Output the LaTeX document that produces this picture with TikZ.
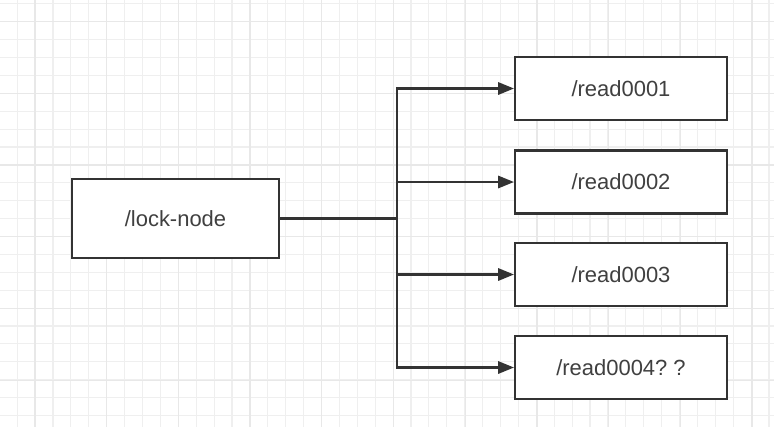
\documentclass[tikz,border=0pt]{standalone}
\usepackage{fontspec}
\setmainfont{Liberation Sans}
\usepackage{xcolor}
\usepackage{tikz}
\usetikzlibrary{
	arrows.meta,
	positioning
}
\definecolor{lineGray}{HTML}{333333}
\definecolor{textGray}{HTML}{404040}
\definecolor{gridMinor}{HTML}{EFEFEF}
\definecolor{gridMajor}{HTML}{E8E8E8}
\tikzset{
	box/.style={draw=lineGray, line width=1.2pt, fill=white, text=textGray,
		font=\fontsize{12.5}{14}\selectfont, inner sep=0pt},
	link/.style={draw=lineGray, line width=1.2pt,
		-{Triangle[length=9pt, width=7pt]}}
}

\begin{document}
\begin{tikzpicture}[x=0.02cm, y=-0.02cm]
	\useasboundingbox (0,0) rectangle (774,427);
	\fill[white] (0,0) rectangle (774,427);
	
	% 背景网格
	\foreach \i in {0,...,43} {
		\draw[gridMinor, line width=0.6pt] ({17.2+17.9*\i},0) -- ({17.2+17.9*\i},427);
	}
	\foreach \i in {0,...,23} {
		\draw[gridMinor, line width=0.6pt] (0,{3.8+17.9*\i}) -- (774,{3.8+17.9*\i});
	}
	\foreach \i in {0,...,10} {
		\draw[gridMajor, line width=0.7pt] ({35+71.7*\i},0) -- ({35+71.7*\i},427);
	}
	\foreach \i in {0,...,5} {
		\draw[gridMajor, line width=0.7pt] (0,{21.7+71.7*\i}) -- (774,{21.7+71.7*\i});
	}
	
	% 节点
	\node[box, minimum width=4.14cm, minimum height=1.58cm] (lock) at (175.5,218.5) {/lock-node};
	\node[box, minimum width=4.24cm, minimum height=1.26cm] (r1) at (621,88.5) {/read0001};
	\node[box, minimum width=4.24cm, minimum height=1.26cm] (r2) at (621,182) {/read0002};
	\node[box, minimum width=4.24cm, minimum height=1.26cm] (r3) at (621,274.5) {/read0003};
	\node[box, minimum width=4.24cm, minimum height=1.26cm] (r4) at (621,367.5) {/read0004?\ ?};
	
	% 连线
	\coordinate (split) at (397,218.5);
	\draw[draw=lineGray, line width=1.2pt] (lock.east) -- (split);
	\foreach \i in {1,...,4} {
		\draw[link] (split) |- (r\i.west);
	}
\end{tikzpicture}
\end{document}
